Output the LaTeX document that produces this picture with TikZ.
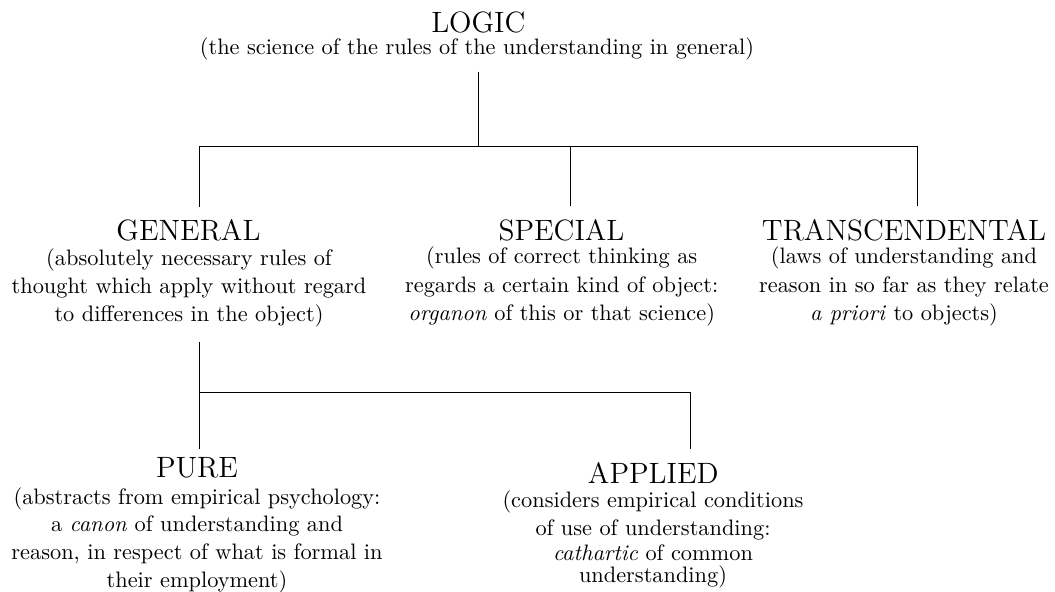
\documentclass[tikz,border=0pt]{standalone}
\usepackage{fontspec}
\begin{document}
\begin{tikzpicture}[x=0.49pt,y=-0.49pt,
  head/.style={font=\fontsize{14.4}{18}\selectfont, inner sep=0pt, anchor=base},
  desc/.style={font=\fontsize{10.95}{13.85}\selectfont, align=center, inner sep=0pt, anchor=base},
  link/.style={line width=0.5pt, black}]
\useasboundingbox (0,0) rectangle (1055,591);
% nodes (desc nodes are anchored at the baseline of their last line)
\node[head] (logic) at (478.3,32.7) {LOGIC};
\node[desc] (logicd) at (477,55) {(the science of the rules of the understanding in general)};
\node[head] (general) at (188.5,240.5) {GENERAL};
\node[desc] (generald) at (189,321.7) {(absolutely necessary rules of\\ thought which apply without regard\\ to differences in the object)};
\node[head] (special) at (561.5,240.5) {SPECIAL};
\node[desc] (speciald) at (561.7,320.5) {(rules of correct thinking as\\ regards a certain kind of object:\\ \emph{organon} of this or that science)};
\node[head] (trans) at (904,240.5) {TRANSCENDENTAL};
\node[desc] (transd) at (904,320.5) {(laws of understanding and\\ reason in so far as they relate\\ \emph{a priori} to objects)};
\node[head] (pure) at (197,477.3) {PURE};
\node[desc] (pured) at (197,587.3) {(abstracts from empirical psychology:\\[-0.25pt] a \emph{canon} of understanding and\\[-0.25pt] reason, in respect of what is formal in\\[-0.25pt] their employment)};
\node[head] (applied) at (653.3,483.3) {APPLIED};
\node[desc] (appliedd) at (653,582.7) {(considers empirical conditions\\[-0.28pt] of use of understanding:\\[-1.6pt] \emph{cathartic} of common\\[-2.73pt] understanding)};
% connector points
\coordinate (lt) at (478.7,71.7);
\coordinate (bus1) at (478.7,146.7);
\coordinate (gt) at (199.5,206.5);
\coordinate (st) at (570,206);
\coordinate (tt) at (917.7,206);
\coordinate (gb) at (199.5,341.7);
\coordinate (bus2) at (199.5,392.7);
\coordinate (pt) at (199.5,449);
\coordinate (at) at (690.7,449);
% connectors
\draw[link] (lt) -- (bus1);
\draw[link] (gt) -- (gt |- bus1) -- (tt |- bus1) -- (tt);
\draw[link] (st |- bus1) -- (st);
\draw[link] (gb) -- (pt);
\draw[link] (bus2) -| (at);
\end{tikzpicture}
\end{document}
